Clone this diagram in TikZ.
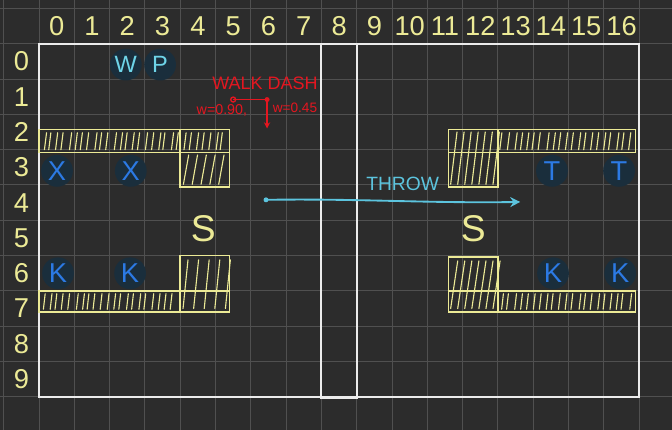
\documentclass[tikz,border=0pt]{standalone}
\usepackage{fontspec}
\setmainfont{Liberation Sans}
\usetikzlibrary{arrows.meta}

\definecolor{board}{RGB}{44,44,44}
\definecolor{gridln}{RGB}{80,80,80}
\definecolor{chalk}{RGB}{236,236,236}
\definecolor{marker}{RGB}{236,234,150}
\definecolor{redpen}{RGB}{228,22,32}
\definecolor{cyanpen}{RGB}{92,196,222}
\definecolor{disc}{RGB}{26,46,60}
\definecolor{bluepen}{RGB}{44,122,228}
\definecolor{lightcyan}{RGB}{110,212,232}

\tikzset{
  collabel/.style={text=marker, inner sep=0pt, font=\fontsize{22}{22}\selectfont},
  rowlabel/.style={text=marker, inner sep=0pt, font=\fontsize{22}{22}\selectfont},
  token/.style={circle, fill=disc, minimum size=0.9cm, inner sep=0pt,
                text=bluepen, font=\fontsize{22}{22}\selectfont},
  wptoken/.style={token, text=lightcyan, font=\fontsize{19}{19}\selectfont},
  safe/.style={text=marker, inner sep=0pt, font=\fontsize{30}{30}\selectfont},
  wall/.style={draw=marker, line width=1.3pt},
  hatch/.style={marker, line width=0.9pt, line cap=round},
  redtext/.style={text=redpen, inner sep=0pt},
}

\begin{document}
\begin{tikzpicture}[x=1cm, y=-1cm]
  \useasboundingbox (-1.105,-1.24) rectangle (17.93,10.94);
  \fill[board] (-1.105,-1.24) rectangle (17.93,10.94);

  % board grid
  \foreach \c in {-1,...,17}
    \draw[gridln, line width=0.8pt] (\c,-1.24) -- (\c,10.94);
  \foreach \r in {-1,...,10}
    \draw[gridln, line width=0.8pt] (-1.105,\r) -- (17.93,\r);

  % column and row numbers
  \foreach \c in {0,...,16}
    \node[collabel] (col\c) at (\c+0.5,-0.5) {\c};
  \foreach \r in {0,...,9}
    \node[rowlabel] (row\r) at (-0.5,\r+0.5) {\r};

  % field outline and centre strip
  \draw[chalk, line width=1.6pt] (0,0) rectangle (17,10);
  \draw[chalk, line width=1.6pt] (8,0) rectangle (9,10.03);

  \pgfmathsetseed{17}

  % ---- left walls ----
  \draw[wall] (0,2.43) rectangle (5.4,3.08);
  \draw[wall] (4,2.43) -- (4,3.08);
  \draw[wall] (4,3.08) rectangle (5.4,4.06);
  \foreach \x in {0.15,0.33,...,5.3}{
    \pgfmathsetmacro{\dx}{0.04*rand}
    \draw[hatch] (\x+\dx+0.03,2.52) -- (\x+\dx-0.03,3.0);
  }
  \foreach \x in {4.12,4.37,...,5.3}{
    \draw[hatch] (\x+0.12,3.15) -- (\x-0.03,3.98);
  }

  \draw[wall] (4,6.0) rectangle (5.4,7.6);
  \draw[wall] (0,7.0) rectangle (5.4,7.6);
  \foreach \x in {0.15,0.33,...,3.9}{
    \pgfmathsetmacro{\dx}{0.04*rand}
    \draw[hatch] (\x+\dx+0.03,7.08) -- (\x+\dx-0.02,7.52);
  }
  \foreach \x in {4.1,4.4,...,5.3}{
    \draw[hatch] (\x+0.12,6.12) -- (\x-0.02,7.5);
  }

  % ---- right walls ----
  \draw[wall] (11.6,2.43) rectangle (16.9,3.08);
  \draw[wall] (11.6,2.43) rectangle (13.0,4.06);
  \foreach \x in {13.12,13.3,...,16.8}{
    \pgfmathsetmacro{\dx}{0.04*rand}
    \draw[hatch] (\x+\dx+0.03,2.52) -- (\x+\dx-0.03,3.0);
  }
  \foreach \x in {11.7,11.9,...,12.95}{
    \draw[hatch] (\x+0.14,2.5) -- (\x-0.04,3.98);
  }

  \draw[wall] (11.6,6.04) rectangle (13.0,7.6);
  \draw[wall] (11.6,7.0) rectangle (16.9,7.6);
  \foreach \x in {13.12,13.3,...,16.8}{
    \pgfmathsetmacro{\dx}{0.04*rand}
    \draw[hatch] (\x+\dx+0.03,7.08) -- (\x+\dx-0.02,7.52);
  }
  \foreach \x in {11.7,11.9,...,12.95}{
    \draw[hatch] (\x+0.16,6.15) -- (\x-0.04,7.5);
  }

  % ---- safe zones ----
  \node[safe] (safeL) at (4.65,5.24) {S};
  \node[safe] (safeR) at (12.3,5.24) {S};

  % ---- players ----
  \node[wptoken] (wtok) at (2.46,0.59) {W};
  \node[wptoken] (ptok) at (3.43,0.59) {P};
  \node[token] (x1) at (0.51,3.6) {X};
  \node[token] (x2) at (2.6,3.6) {X};
  \node[token] (t1) at (14.53,3.6) {T};
  \node[token] (t2) at (16.43,3.6) {T};
  \node[token] (k1) at (0.54,6.5) {K};
  \node[token] (k2) at (2.58,6.5) {K};
  \node[token] (k3) at (14.56,6.5) {K};
  \node[token] (k4) at (16.46,6.5) {K};

  % ---- throw ----
  \coordinate (throwA) at (6.43,4.42);
  \coordinate (throwB) at (13.63,4.48);
  \draw[cyanpen, line width=1.5pt, -{Stealth[length=8pt,width=8pt]}]
    (throwA) .. controls (9,4.38) and (11,4.52) .. (throwB);
  \fill[cyanpen] (throwA) circle (0.07);
  \node[text=cyanpen, inner sep=0pt, font=\fontsize{15.5}{15.5}\selectfont]
    (throwlbl) at (10.3,3.97) {THROW};

  % ---- walk / dash note ----
  \node[redtext, font=\fontsize{14.5}{14.5}\selectfont] (walkdash) at (6.4,1.13) {WALK DASH};
  \coordinate (wdA) at (5.5,1.58);
  \coordinate (wdB) at (6.46,1.58);
  \coordinate (wdC) at (6.46,2.4);
  \draw[redpen, line width=1.1pt] (wdA) -- (wdB);
  \draw[redpen, line width=1.1pt, -{Stealth[length=5pt,width=5pt]}] (wdB) -- (wdC);
  \draw[redpen, line width=1.1pt] (wdA) circle (0.07);
  \fill[redpen] (wdB) circle (0.07);
  \node[redtext, font=\fontsize{11.5}{11.5}\selectfont] (wleft) at (5.18,1.88) {w=0.90,};
  \node[redtext, font=\fontsize{11}{11}\selectfont] (wright) at (7.25,1.8) {w=0.45};
\end{tikzpicture}
\end{document}
